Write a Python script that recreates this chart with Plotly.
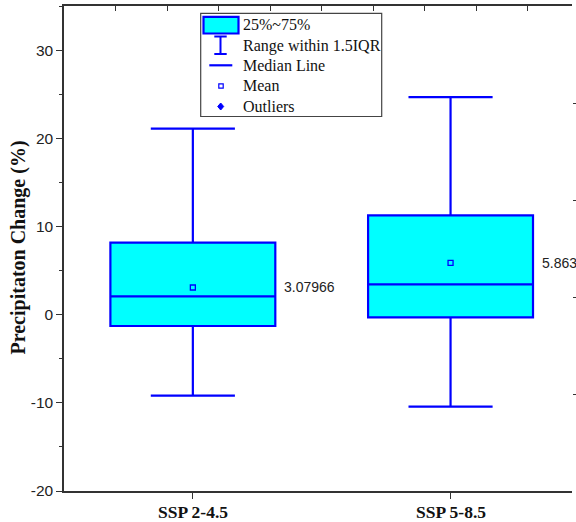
import plotly.graph_objects as go

# ---- data ----
categories = ["SSP 2-4.5", "SSP 5-8.5"]
positions = [1, 2]
lower_whisker = [-9.18, -10.43]
q1 = [-1.29, -0.31]
median = [2.07, 3.44]
q3 = [8.16, 11.26]
upper_whisker = [21.09, 24.67]
means = [3.07966, 5.863]
y_ticks = [-20, -10, 0, 10, 20, 30]
y_tick_labels = ["-20", "-10", "0", "10", "20", "30"]
legend_labels = ["25%~75%", "Range within 1.5IQR", "Median Line", "Mean", "Outliers"]

BLUE = "#0000ff"
CYAN = "#00ffff"
AX = "#333333"
W, H = 576, 522
L, R, T, B = 64, 4, 6, 31
PW, PH = W - L - R, H - T - B
XMIN = 0.5
XMAX = XMIN + PW / 257.7


def px(x):
    return (x - L) / PW


def py(y):
    return (H - B - y) / PH


fig = go.Figure()

fig.add_trace(go.Box(
    x=positions, q1=q1, median=median, q3=q3,
    lowerfence=lower_whisker, upperfence=upper_whisker,
    width=0.64, whiskerwidth=0.51,
    fillcolor=CYAN, line=dict(color=BLUE, width=2.2),
    boxpoints=False, showlegend=False, hoverinfo="skip",
))

fig.add_trace(go.Scatter(
    x=positions, y=means, mode="markers",
    marker=dict(symbol="square-open", size=5, color=BLUE, line=dict(width=1.3, color=BLUE)),
    showlegend=False, hoverinfo="skip",
))

# invisible trace to anchor the secondary (top/right) tick axes
fig.add_trace(go.Scatter(x=[None], y=[None], xaxis="x2", yaxis="y2", showlegend=False))

annotations = []
for p, m in zip(positions, means):
    annotations.append(dict(
        x=p + 0.32, y=m, xref="x", yref="y", text=str(m), showarrow=False,
        xanchor="left", yanchor="middle", xshift=7,
        font=dict(family="Liberation Sans, Arial", size=14, color="#222222"),
    ))

# category labels (placed through the x scale)
for p, c in zip(positions, categories):
    annotations.append(dict(
        x=p, y=py(511.5), xref="x", yref="paper", text=f"<b>{c}</b>", showarrow=False,
        xanchor="center", yanchor="middle",
        font=dict(family="Liberation Serif, Times New Roman", size=17.5, color="#111111"),
    ))

# y-axis title
annotations.append(dict(
    x=px(18), y=py(247.5), xref="paper", yref="paper",
    text="<b>Precipitaton Change (%)</b>", textangle=-90, showarrow=False,
    xanchor="center", yanchor="middle",
    font=dict(family="Liberation Serif, Times New Roman", size=20, color="#111111"),
))

# manual legend
text_y = [25, 45.5, 65.5, 86, 106]
for lab, ty in zip(legend_labels, text_y):
    annotations.append(dict(
        x=px(241), y=py(ty), xref="paper", yref="paper", text=lab, showarrow=False,
        xanchor="left", yanchor="middle",
        font=dict(family="Liberation Serif, Times New Roman", size=16, color="#111111"),
    ))

shapes = [
    # legend frame
    dict(type="rect", xref="paper", yref="paper", x0=px(200.7), x1=px(381.7),
         y0=py(116.5), y1=py(13.3), line=dict(color="#444444", width=1.2), fillcolor="white", layer="above"),
    # box icon
    dict(type="rect", xref="paper", yref="paper", x0=px(203.5), x1=px(238.5),
         y0=py(33.5), y1=py(16.8), line=dict(color=BLUE, width=2.2), fillcolor=CYAN, layer="above"),
    # range icon
    dict(type="line", xref="paper", yref="paper", x0=px(214.3), x1=px(226.7), y0=py(36.5), y1=py(36.5),
         line=dict(color=BLUE, width=2), layer="above"),
    dict(type="line", xref="paper", yref="paper", x0=px(220.5), x1=px(220.5), y0=py(36.5), y1=py(54),
         line=dict(color=BLUE, width=2), layer="above"),
    dict(type="line", xref="paper", yref="paper", x0=px(214.3), x1=px(226.7), y0=py(54), y1=py(54),
         line=dict(color=BLUE, width=2), layer="above"),
    # median icon
    dict(type="line", xref="paper", yref="paper", x0=px(209.3), x1=px(232.3), y0=py(65.3), y1=py(65.3),
         line=dict(color=BLUE, width=2.2), layer="above"),
    # mean icon
    dict(type="rect", xref="paper", yref="paper", x0=px(218.8), x1=px(223.2), y0=py(88.2), y1=py(83.8),
         line=dict(color=BLUE, width=1.2), fillcolor="white", layer="above"),
    # outlier icon (diamond)
    dict(type="path", xref="paper", yref="paper",
         path=f"M {px(220.7)} {py(103)} L {px(223.7)} {py(106.5)} L {px(220.7)} {py(110)} L {px(217.7)} {py(106.5)} Z",
         line=dict(color=BLUE, width=1), fillcolor=BLUE, layer="above"),
]

fig.update_layout(
    width=W, height=H,
    margin=dict(l=L, r=R, t=T, b=B, pad=0, autoexpand=False),
    paper_bgcolor="white", plot_bgcolor="white",
    showlegend=False,
    annotations=annotations, shapes=shapes,
    xaxis=dict(
        range=[XMIN, XMAX], tickvals=positions, showticklabels=False, automargin=False,
        ticks="outside", ticklen=6, tickwidth=1.3, tickcolor=AX,
        showline=True, linecolor=AX, linewidth=1.5, mirror=True,
        showgrid=False, zeroline=False,
    ),
    yaxis=dict(
        range=[-20, 35], tickvals=y_ticks, ticktext=y_tick_labels, automargin=False,
        ticks="outside", ticklen=6, tickwidth=1.3, tickcolor=AX,
        minor=dict(dtick=5, tick0=-20, ticks="outside", ticklen=3, tickwidth=1.3, tickcolor=AX),
        showline=True, linecolor=AX, linewidth=1.5, mirror=False,
        showgrid=False, zeroline=False,
        tickfont=dict(family="Liberation Sans, Arial", size=15.5, color="#222222"),
    ),
    xaxis2=dict(
        overlaying="x", side="top", anchor="y2", range=[XMIN, XMAX], automargin=False,
        tickvals=[0.7, 0.9, 1.1, 1.3, 1.5, 1.7, 1.9, 2.1, 2.3],
        ticks="inside", ticklen=5, tickwidth=1.3, tickcolor=AX,
        showticklabels=False, showline=False, showgrid=False, zeroline=False,
    ),
    yaxis2=dict(
        overlaying="y", side="right", anchor="x2", range=[0, 1], automargin=False,
        tickvals=[0.2, 0.4, 0.6, 0.8],
        ticks="outside", ticklen=4, tickwidth=1.3, tickcolor=AX,
        showticklabels=False, showline=False, showgrid=False, zeroline=False,
    ),
)

fig.write_html(
    "out.html",
    config={"displayModeBar": False},
    post_script="document.body.style.margin='0';document.body.style.overflow='hidden';",
)
